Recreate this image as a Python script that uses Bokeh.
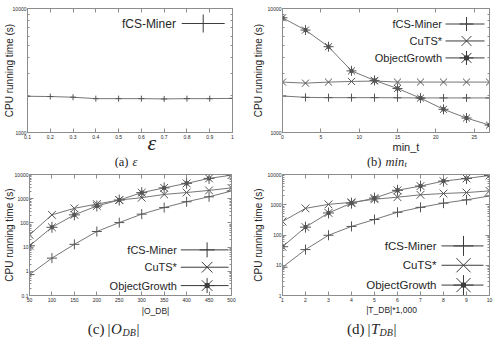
from bokeh.plotting import figure
from bokeh.models import FixedTicker, Range1d, LinearScale, Label, LinearAxis, LogAxis, Title
from bokeh.layouts import row, column
from bokeh.embed import file_html
from bokeh.resources import INLINE

# ---------------- data ----------------
series_names = ["fCS-Miner", "CuTS*", "ObjectGrowth"]

# (a) epsilon
eps = [0.1, 0.2, 0.3, 0.4, 0.5, 0.6, 0.7, 0.8, 0.9, 1.0]
a_fcs = [1960, 1950, 1925, 1875, 1875, 1875, 1865, 1875, 1875, 1885]

# (b) min_t
min_t = [0, 3, 6, 9, 12, 15, 18, 21, 24, 27]
b_fcs = [1970, 1920, 1910, 1910, 1910, 1905, 1900, 1900, 1900, 1900]
b_cuts = [2550, 2500, 2550, 2580, 2600, 2550, 2550, 2550, 2550, 2550]
b_og = [8410, 6700, 4920, 3140, 2630, 2265, 1893, 1538, 1308, 1147]

# (c) |O_DB|
o_db = [50, 100, 150, 200, 250, 300, 350, 400, 450, 500]
c_fcs = [0.73, 3.5, 13, 44, 103, 230, 430, 750, 1200, 2080]
c_cuts = [32, 215, 400, 600, 880, 1100, 1500, 1800, 2200, 2800]
c_og = [11.3, 66, 215, 500, 880, 1780, 2800, 4300, 6900, 9400]

# (d) |T_DB|
t_db = [1, 2, 3, 4, 5, 6, 7, 8, 9, 10]
d_fcs = [8.6, 33, 98, 192, 325, 565, 820, 1130, 1450, 1960]
d_cuts = [280, 760, 1030, 1200, 1520, 1780, 2130, 2350, 2530, 2870]
d_og = [41, 182, 535, 1130, 1660, 3000, 4150, 6050, 7400, 9300]

# ticks
a_xticks = eps
a_xlabels = ["0.1", "0.2", "0.3", "0.4", "0.5", "0.6", "0.7", "0.8", "0.9", "1"]
b_xticks = [0, 5, 10, 15, 20, 25]
b_xlabels = ["0", "5", "10", "15", "20", "25"]
c_xticks = o_db
c_xlabels = ["50", "100", "150", "200", "250", "300", "350", "400", "450", "500"]
d_xticks = t_db
d_xlabels = ["1", "2", "3", "4", "5", "6", "7", "8", "9", "10"]
ab_yticks = [1000, 10000]
ab_ylabels = ["1000", "10000"]
c_yticks = [0.1, 1, 10, 100, 1000, 10000]
c_ylabels = ["0.1", "1", "10", "100", "1000", "10000"]
d_yticks = [1, 10, 100, 1000, 10000]
d_ylabels = ["1", "10", "100", "1000", "10000"]

y_title = "CPU running time (s)"

# ---------------- style ----------------
FRAME = "#8c8c8c"
LINE = "#767676"
MARK = "#555555"
KEY = "#3c3c3c"
TXT = "#262626"
SANS = "Liberation Sans"
SERIF = "Liberation Serif"
MARKERS = ["cross", "x", "asterisk"]


def minor_log(lo, hi):
    out = []
    d = lo
    while d < hi:
        for m in range(2, 10):
            out.append(m * d)
        d *= 10
    return out


def style_axis(ax, ticker, labels=None, show=True, standoff=2):
    ax.ticker = ticker
    ax.major_tick_in = 4
    ax.major_tick_out = 0
    ax.minor_tick_in = 2
    ax.minor_tick_out = 0
    ax.axis_line_color = FRAME
    ax.major_tick_line_color = FRAME
    ax.minor_tick_line_color = FRAME
    ax.major_label_text_font = SANS
    ax.major_label_text_color = TXT if show else None
    ax.major_label_text_font_size = "5px" if show else "1px"
    ax.major_label_standoff = standoff if show else 0
    if labels is not None:
        ax.major_label_overrides = dict(zip(ticker.ticks, labels))


def panel(w, h, L, R, T, B, xr, yr, xticks, xlabels, yticks, ylabels, ystandoff):
    p = figure(width=w, height=h, x_range=Range1d(*xr), y_range=Range1d(*yr),
               y_axis_type="log", output_backend="svg", toolbar_location=None,
               min_border_left=L, min_border_right=R, min_border_top=T,
               min_border_bottom=B)
    p.grid.visible = False
    p.outline_line_color = FRAME
    p.background_fill_color = "white"
    p.border_fill_color = "white"
    style_axis(p.xaxis[0], FixedTicker(ticks=xticks, minor_ticks=[]), xlabels, standoff=2)
    ya = p.yaxis[0]
    style_axis(ya, FixedTicker(ticks=yticks, minor_ticks=minor_log(yr[0], yr[1])), ylabels, standoff=1)
    ya.axis_label = y_title
    ya.axis_label_text_font = SANS
    ya.axis_label_text_font_size = "10px"
    ya.axis_label_text_font_style = "normal"
    ya.axis_label_text_color = TXT
    ya.axis_label_standoff = ystandoff
    top = LinearAxis()
    style_axis(top, FixedTicker(ticks=xticks, minor_ticks=[]), show=False)
    p.add_layout(top, "above")
    right = LogAxis()
    style_axis(right, FixedTicker(ticks=yticks, minor_ticks=minor_log(yr[0], yr[1])), show=False)
    p.add_layout(right, "right")
    W = w - L - R
    H = h - T - B
    p.extra_x_ranges = {"f": Range1d(0, W)}
    p.extra_y_ranges = {"f": Range1d(0, H)}
    p.extra_x_scales = {"f": LinearScale()}
    p.extra_y_scales = {"f": LinearScale()}
    return p


def xtitle(p, text, size, font, style, offset, shift):
    # x-axis title under the tick labels; shift = box top relative to the tick-label band bottom
    p.add_layout(Title(text=text, align="left", offset=offset, vertical_align="top",
                       standoff=int(round(2 * shift)), text_font=font,
                       text_font_size=f"{size}px", text_font_style=style,
                       text_color=TXT), "below")


def strip(w, h):
    s = figure(width=w, height=h, x_range=Range1d(0, w), y_range=Range1d(h, 0),
               x_axis_location=None, y_axis_location=None, min_border=0,
               output_backend="svg", toolbar_location=None)
    s.grid.visible = False
    s.outline_line_color = None
    return s


def lab(p, x, y, text, size, font=SANS, align="center", style="normal", frame=True):
    kw = dict(x_range_name="f", y_range_name="f") if frame else {}
    p.add_layout(Label(x=x, y=y, text=text, text_font=font, text_font_size=f"{size}px",
                       text_align=align, text_baseline="middle", text_font_style=style,
                       text_color=TXT, **kw))


def series(p, xs, ys, k, size):
    p.line(xs, ys, line_color=LINE, line_width=1)
    p.scatter(xs, ys, marker=MARKERS[k], size=size, line_color=MARK, line_width=1)
    if k == 2:
        p.scatter(xs, ys, marker="square", size=3, line_color=MARK, fill_color=MARK)


def key(p, k, tx, ty, x0, x1, xm, size, fsize):
    lab(p, tx, ty, series_names[k], fsize, align="right")
    p.line([x0, x1], [ty, ty], line_color=KEY, line_width=1, x_range_name="f", y_range_name="f")
    p.scatter([xm], [ty], marker=MARKERS[k], size=size, line_color=KEY, line_width=1,
              x_range_name="f", y_range_name="f")
    if k == 2:
        p.scatter([xm], [ty], marker="square", size=4, line_color=KEY, fill_color=KEY,
                  x_range_name="f", y_range_name="f")


# ---------------- (a) ----------------
pa = panel(249, 154, 22, 17, 8, 22, (0.1, 1.0), (1000, 10000),
           a_xticks, a_xlabels, ab_yticks, ab_ylabels, -5)
series(pa, eps, a_fcs, 0, 6)
key(pa, 0, 152, 109, 158, 202, 180, 18, 12)
xtitle(pa, "ε", 22, SERIF, "italic", 120, -12)

ca = strip(249, 14)
lab(ca, 128, 7, "(a)", 12.5, font=SERIF, align="right", frame=False)
lab(ca, 132, 7, "ε", 12.5, font=SERIF, align="left", style="italic", frame=False)

# ---------------- (b) ----------------
pb = panel(249, 154, 33, 9, 4, 22, (0, 27), (1000, 10000),
           b_xticks, b_xlabels, ab_yticks, ab_ylabels, 1)
series(pb, min_t, b_fcs, 0, 8)
series(pb, min_t, b_cuts, 1, 10)
series(pb, min_t, b_og, 2, 10)
for k, ty in enumerate([112, 94.5, 77]):
    key(pb, k, 159.5, ty, 163, 202, 184, 14, 11)
xtitle(pb, "min_t", 11, SANS, "normal", 110, -1)

cb = strip(249, 14)
lab(cb, 132, 7, "(b)", 12.5, font=SERIF, align="right", frame=False)
lab(cb, 136, 7, "min", 12.5, font=SERIF, align="left", style="italic", frame=False)
lab(cb, 155, 9, "t", 8.5, font=SERIF, align="left", style="italic", frame=False)

# ---------------- (c) ----------------
pc = panel(249, 136, 24, 18, 6, 8, (50, 500), (0.1, 10000),
           c_xticks, c_xlabels, c_yticks, c_ylabels, -3)
series(pc, o_db, c_fcs, 0, 10)
series(pc, o_db, c_cuts, 1, 11)
series(pc, o_db, c_og, 2, 11)
for k, ty in enumerate([46, 28.5, 10]):
    key(pc, k, 151, ty, 155, 204, 182, 15, 11)

cc = strip(249, 34)
lab(cc, 155, 6, "|O_DB|", 8.5, frame=False)
lab(cc, 104, 24, "(c)", 15, font=SERIF, align="right", frame=False)
lab(cc, 107, 24, "|", 15, font=SERIF, align="left", frame=False)
lab(cc, 110.5, 24, "O", 15, font=SERIF, align="left", style="italic", frame=False)
lab(cc, 122, 28, "DB", 10, font=SERIF, align="left", style="italic", frame=False)
lab(cc, 136, 24, "|", 15, font=SERIF, align="left", frame=False)

# ---------------- (d) ----------------
pd_ = panel(249, 136, 33, 9, 5, 9, (1, 10), (1, 10000),
            d_xticks, d_xlabels, d_yticks, d_ylabels, 1)
series(pd_, t_db, d_fcs, 0, 10)
series(pd_, t_db, d_cuts, 1, 11)
series(pd_, t_db, d_og, 2, 11)
for k, ty in enumerate([50, 30.5, 10.5]):
    key(pd_, k, 154, ty, 159, 201, 181, 20, 11.5)

cd = strip(249, 34)
lab(cd, 142, 5, "|T_DB|*1,000", 8.5, frame=False)
lab(cd, 115, 24, "(d)", 15, font=SERIF, align="right", frame=False)
lab(cd, 118, 24, "|", 15, font=SERIF, align="left", frame=False)
lab(cd, 121.5, 24, "T", 15, font=SERIF, align="left", style="italic", frame=False)
lab(cd, 130, 28, "DB", 10, font=SERIF, align="left", style="italic", frame=False)
lab(cd, 144, 24, "|", 15, font=SERIF, align="left", frame=False)

layout = column(row(pa, pb), row(ca, cb), row(pc, pd_), row(cc, cd))
open("out.html", "w").write(file_html(layout, INLINE))
